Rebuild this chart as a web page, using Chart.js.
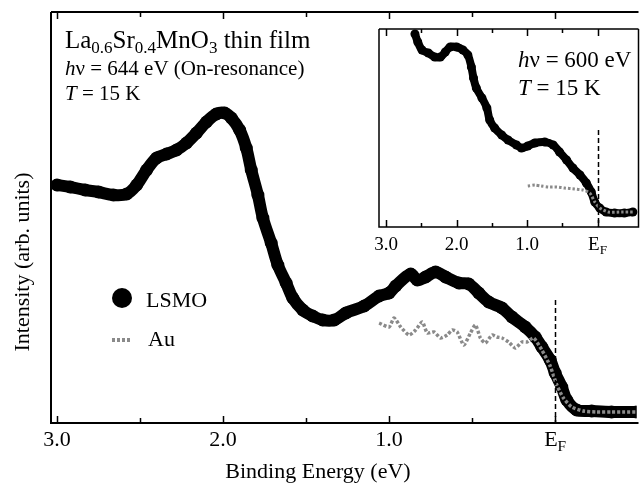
<!DOCTYPE html>
<html>
<head>
<meta charset="utf-8">
<script src="https://cdn.jsdelivr.net/npm/chart.js@4"></script>
<style>
  html, body { margin: 0; padding: 0; background: #fff; overflow: hidden; }
  #wrap { position: relative; width: 643px; height: 483px; }
  #main { position: absolute; left: 0; top: 0; }
  #inset { position: absolute; left: 370px; top: 20px; }
</style>
</head>
<body>
<div id="wrap">
  <canvas id="main" width="643" height="483"></canvas>
  <canvas id="inset" width="273" height="240"></canvas>
</div>
<script>
// --- main panel: hv = 644 eV ---
const lsmoBE = [3.00, 2.92, 2.83, 2.75, 2.66, 2.58, 2.52, 2.46, 2.40, 2.34,
  2.28, 2.22, 2.16, 2.10, 2.04, 1.99, 1.95, 1.90, 1.86, 1.83,
  1.79, 1.76, 1.71, 1.67, 1.62, 1.58, 1.52, 1.46, 1.40, 1.33,
  1.26, 1.15, 1.06, 1.00, 0.96, 0.87, 0.83, 0.78, 0.72, 0.66,
  0.58, 0.52, 0.46, 0.40, 0.32, 0.26, 0.18, 0.12, 0.08, 0.03,
  0.00, -0.04, -0.07, -0.13, -0.22, -0.34, -0.49];
const lsmoInt = [238, 236, 233, 231, 228, 229, 238, 253, 265, 269,
  273, 280, 290, 301, 309, 310, 305, 293, 275, 253,
  228, 205, 180, 158, 140, 125, 113, 107, 103, 103,
  110, 117, 127, 130, 137, 149, 143, 146, 151, 146,
  140, 139, 130, 121, 115, 106, 96, 86, 76, 63,
  50, 36, 23, 13, 12, 11, 11];

const auBE = [1.06, 1.00, 0.97, 0.93, 0.88, 0.84, 0.80, 0.77, 0.73, 0.69,
  0.65, 0.62, 0.59, 0.55, 0.51, 0.48, 0.45, 0.42, 0.38, 0.35,
  0.32, 0.28, 0.24, 0.20, 0.17, 0.13, 0.08, 0.03, -0.01, -0.05,
  -0.10, -0.17, -0.25, -0.34, -0.42, -0.49];
const auInt = [100, 96, 105, 96, 88, 93, 101, 90, 91, 85,
  88, 93, 91, 78, 90, 98, 85, 80, 88, 86,
  85, 81, 75, 81, 81, 85, 73, 57, 38, 25,
  16, 12, 11, 11, 11, 11];

// --- inset: hv = 600 eV ---
const insetLsmoBE = [2.59, 2.55, 2.49, 2.40, 2.31, 2.23, 2.16, 2.09, 2.00, 1.91,
  1.84, 1.79, 1.76, 1.72, 1.64, 1.57, 1.53, 1.46, 1.36, 1.27,
  1.15, 1.08, 0.99, 0.89, 0.75, 0.63, 0.54, 0.44, 0.35, 0.25,
  0.16, 0.09, 0.04, -0.03, -0.12, -0.24, -0.38, -0.50];
const insetLsmoInt = [193, 185, 177, 174, 170, 170, 175, 180, 180, 177,
  172, 160, 149, 139, 129, 119, 107, 99, 92, 87,
  82, 79, 81, 84, 85, 82, 75, 67, 59, 52,
  44, 35, 25, 19, 15, 14, 14, 15];

const insetAuBE = [0.99, 0.89, 0.80, 0.70, 0.58, 0.47, 0.33, 0.21, 0.11, 0.04, -0.03, -0.15, -0.34, -0.50];
const insetAuInt = [41, 42, 41, 40, 40, 39, 38, 37, 34, 25, 19, 15, 15, 15];

// tick positions (eV) and labels
const majorTicks = [3.0, 2.0, 1.0, 0.0];
const minorTicks = [2.5, 1.5, 0.5];
const tickLabels = ['3.0', '2.0', '1.0', 'EF'];

const SERIF = '"Liberation Serif", "Times New Roman", serif';

function toPts(xs, ys) {
  return xs.map((x, i) => ({ x, y: ys[i] }));
}

// text made of runs: [text, size, italic, dy]
function drawRuns(ctx, x, y, runs, align) {
  let w = 0;
  runs.forEach((r) => {
    ctx.font = (r[2] ? 'italic ' : '') + r[1] + 'px ' + SERIF;
    w += ctx.measureText(r[0]).width;
  });
  let cx = align === 'center' ? x - w / 2 : x;
  runs.forEach((r) => {
    ctx.font = (r[2] ? 'italic ' : '') + r[1] + 'px ' + SERIF;
    ctx.fillText(r[0], cx, y + (r[3] || 0));
    cx += ctx.measureText(r[0]).width;
  });
}

function makeFrame(cfg) {
  return {
    id: 'frame',
    afterDraw(chart) {
      const { ctx, chartArea: a, scales: { x, y } } = chart;
      ctx.save();
      ctx.strokeStyle = '#000';
      ctx.fillStyle = '#000';
      ctx.lineWidth = cfg.axisWidth;
      ctx.beginPath();
      ctx.moveTo(a.left, a.top);
      ctx.lineTo(a.left, a.bottom);
      ctx.lineTo(a.right + (cfg.rightBorder ? 0 : 2), a.bottom);
      if (cfg.rightBorder) ctx.lineTo(a.right, a.top);
      ctx.moveTo(a.left, a.top);
      ctx.lineTo(a.right + (cfg.rightBorder ? 0 : 2), a.top);
      ctx.stroke();

      // inward ticks top and bottom
      ctx.lineWidth = cfg.tickWidth;
      ctx.beginPath();
      majorTicks.concat(minorTicks).forEach((v) => {
        const px = Math.round(x.getPixelForValue(v)) + 0.5;
        const len = majorTicks.includes(v) ? cfg.major : cfg.minor;
        ctx.moveTo(px, a.bottom);
        ctx.lineTo(px, a.bottom - len);
        ctx.moveTo(px, a.top);
        ctx.lineTo(px, a.top + len);
      });
      ctx.stroke();

      // tick labels
      ctx.textBaseline = 'alphabetic';
      majorTicks.forEach((v, i) => {
        const px = x.getPixelForValue(v);
        const lab = tickLabels[i];
        if (lab === 'EF') {
          drawRuns(ctx, px, cfg.labelY, [['E', cfg.labelSize], ['F', cfg.labelSize * 0.7, false, cfg.labelSize * 0.22]], 'center');
        } else {
          drawRuns(ctx, px, cfg.labelY, [[lab, cfg.labelSize]], 'center');
        }
      });

      // dashed line at E_F
      ctx.lineWidth = 1.5;
      ctx.setLineDash([5, 3]);
      ctx.beginPath();
      const ef = Math.round(x.getPixelForValue(0)) + 0.5;
      ctx.moveTo(ef, y.getPixelForValue(cfg.efTop));
      ctx.lineTo(ef, a.bottom);
      ctx.stroke();
      ctx.setLineDash([]);

      if (cfg.extra) cfg.extra(ctx, a);
      ctx.restore();
    },
  };
}

function mainExtra(ctx) {
  // sample / condition text
  drawRuns(ctx, 65, 48, [['La', 25], ['0.6', 17, false, 5], ['Sr', 25], ['0.4', 17, false, 5],
    ['MnO', 25], ['3', 17, false, 5], [' thin film', 25]]);
  drawRuns(ctx, 65, 75, [['h', 21, true], ['ν = 644 eV (On-resonance)', 21]]);
  drawRuns(ctx, 65, 100, [['T', 21, true], [' = 15 K', 21]]);

  // legend
  ctx.beginPath();
  ctx.arc(122, 298, 10, 0, Math.PI * 2);
  ctx.fill();
  drawRuns(ctx, 146, 307, [['LSMO', 22]]);
  ctx.strokeStyle = '#8a8a8a';
  ctx.lineWidth = 4;
  ctx.setLineDash([3, 2]);
  ctx.beginPath();
  ctx.moveTo(112, 340);
  ctx.lineTo(132, 340);
  ctx.stroke();
  ctx.setLineDash([]);
  drawRuns(ctx, 148, 346, [['Au', 22]]);

  // axis titles
  drawRuns(ctx, 318, 478, [['Binding Energy (eV)', 22]], 'center');
  ctx.save();
  ctx.translate(29, 262);
  ctx.rotate(-Math.PI / 2);
  drawRuns(ctx, 0, 0, [['Intensity (arb. units)', 22]], 'center');
  ctx.restore();
}

function insetExtra(ctx) {
  drawRuns(ctx, 148, 47, [['h', 23, true], ['ν = 600 eV', 23]]);
  drawRuns(ctx, 148, 75, [['T', 23, true], [' = 15 K', 23]]);
}

new Chart(document.getElementById('main'), {
  type: 'line',
  data: {
    datasets: [
      {
        label: 'Au',
        data: toPts(auBE, auInt),
        borderColor: '#8a8a8a',
        borderWidth: 3.5,
        borderDash: [3, 2],
        pointRadius: 0,
        tension: 0.2,
        order: 0,
      },
      {
        label: 'LSMO',
        data: toPts(lsmoBE, lsmoInt),
        borderColor: '#000',
        backgroundColor: '#000',
        borderWidth: 12,
        borderCapStyle: 'round',
        borderJoinStyle: 'round',
        pointRadius: 6.5,
        pointBorderWidth: 0,
        tension: 0.35,
        order: 1,
      },
    ],
  },
  options: {
    responsive: false,
    animation: false,
    events: [],
    layout: { padding: { left: 51, top: 12, right: 0, bottom: 60 } },
    plugins: { legend: { display: false }, tooltip: { enabled: false } },
    scales: {
      x: { type: 'linear', reverse: true, min: -0.49, max: 3.036, display: false },
      y: { min: 0, max: 411, display: false },
    },
  },
  plugins: [makeFrame({
    axisWidth: 2, tickWidth: 1.5, major: 7, minor: 5,
    labelY: 446, labelSize: 22, efTop: 123, rightBorder: false, extra: mainExtra,
  })],
});

new Chart(document.getElementById('inset'), {
  type: 'line',
  data: {
    datasets: [
      {
        label: 'Au',
        data: toPts(insetAuBE, insetAuInt),
        borderColor: '#8a8a8a',
        borderWidth: 3,
        borderDash: [2.5, 2],
        pointRadius: 0,
        tension: 0.2,
        order: 0,
      },
      {
        label: 'LSMO',
        data: toPts(insetLsmoBE, insetLsmoInt),
        borderColor: '#000',
        backgroundColor: '#000',
        borderWidth: 8,
        borderCapStyle: 'round',
        borderJoinStyle: 'round',
        pointRadius: 4.5,
        pointBorderWidth: 0,
        tension: 0.35,
        order: 1,
      },
    ],
  },
  options: {
    responsive: false,
    animation: false,
    events: [],
    layout: { padding: { left: 9, top: 9, right: 4, bottom: 33 } },
    plugins: { legend: { display: false }, tooltip: { enabled: false } },
    scales: {
      x: { type: 'linear', reverse: true, min: -0.58, max: 3.10, display: false },
      y: { min: 0, max: 198, display: false },
    },
  },
  plugins: [makeFrame({
    axisWidth: 1.5, tickWidth: 1.5, major: 7, minor: 4,
    labelY: 230, labelSize: 19, efTop: 97, rightBorder: true, extra: insetExtra,
  })],
});
</script>
</body>
</html>
